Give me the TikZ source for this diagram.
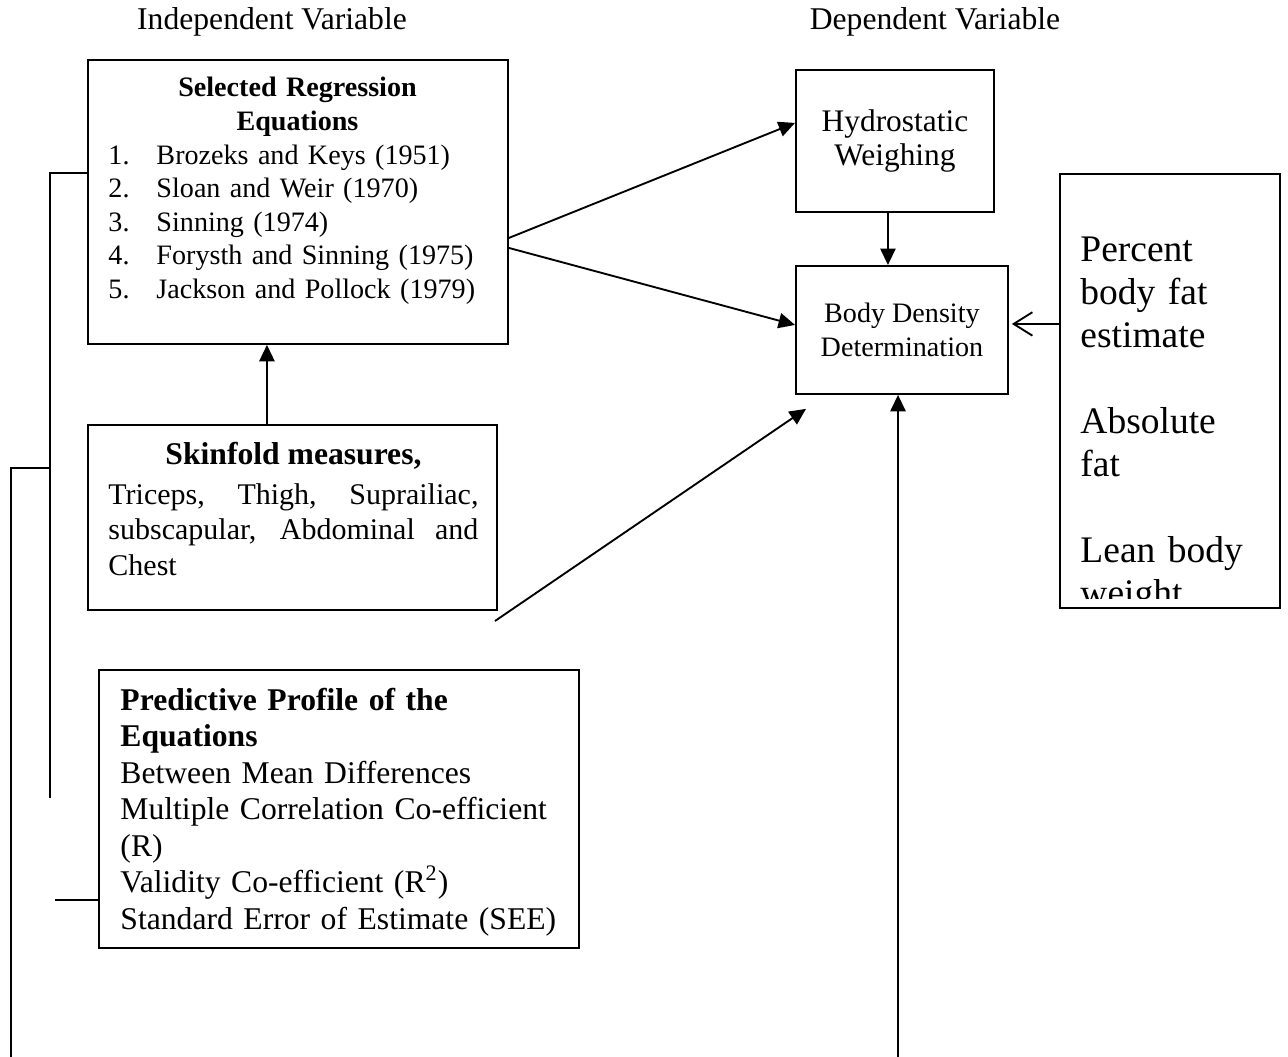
\documentclass[tikz,border=0pt]{standalone}
\usepackage{fontspec}
\setmainfont{Liberation Serif}
\usetikzlibrary{arrows.meta,calc}

\begin{document}
\begin{tikzpicture}[x=0.015cm, y=-0.015cm,
		box/.style={draw, line width=0.8pt, inner sep=0pt, anchor=north west},
		txt/.style={inner sep=0pt, anchor=base west, align=left},
		head/.style={inner sep=0pt, anchor=base, font=\fontsize{13.5}{15.5}\selectfont},
		arr/.style={line width=0.8pt, -{Triangle[length=7pt,width=6.5pt]}},
		link/.style={line width=0.8pt},
	]
	\useasboundingbox (0,0) rectangle (1288,1057);

	\node[head] (indep) at (272,30) {Independent Variable};
	\node[head] (dep) at (935,30) {Dependent Variable};

	% independent side
	\node[box, minimum width=6.30cm, minimum height=4.26cm] (regr) at (87,59) {};
	\node[txt, text width=5.67cm, font=\fontsize{12}{14.3}\selectfont] (regrtxt) at (108,97)
		{{\centering\bfseries Selected Regression\\Equations\par}
		\makebox[20.5pt][l]{1.}Brozeks and Keys (1951)\\
		\makebox[20.5pt][l]{2.}Sloan and Weir (1970)\\
		\makebox[20.5pt][l]{3.}Sinning (1974)\\
		\makebox[20.5pt][l]{4.}Forysth and Sinning (1975)\\
		\makebox[20.5pt][l]{5.}Jackson and Pollock (1979)};

	\node[box, minimum width=6.135cm, minimum height=2.775cm] (skin) at (87,424) {};
	\node[txt, text width=5.55cm, align=justify, font=\fontsize{12.8}{15}\selectfont] (skintxt) at (108,465)
		{{\centering\bfseries\fontsize{13.5}{15.5}\selectfont Skinfold measures,\par}\vspace{2pt}
		Triceps, Thigh, Suprailiac,\linebreak subscapular, Abdominal and Chest};

	\node[box, minimum width=7.20cm, minimum height=4.17cm] (pred) at (98,669) {};
	\node[txt, text width=6.8cm, font=\fontsize{13.5}{15.6}\selectfont] (predtxt) at (120,710)
		{\textbf{Predictive Profile of the}\\\textbf{Equations}\\Between Mean Differences\\
		Multiple Correlation Co-efficient\\(R)\\Validity Co-efficient (R\textsuperscript{2})\\
		Standard Error of Estimate (SEE)};

	% dependent side
	\node[box, minimum width=2.97cm, minimum height=2.13cm, align=center,
		font=\fontsize{13.4}{14.5}\selectfont] (hydro) at (795,69) {Hydrostatic\\Weighing};
	\node[box, minimum width=3.18cm, minimum height=1.92cm, align=center,
		font=\fontsize{12}{14.3}\selectfont] (dens) at (795,265) {Body Density\\Determination};

	\node[box, minimum width=3.30cm, minimum height=6.51cm] (fat) at (1059,173) {};
	\begin{scope}
		\clip (fat.north west) rectangle ($(fat.south east)+(0,-10)$);
		\node[txt, text width=2.9cm, font=\fontsize{16}{18.35}\selectfont] (fattxt) at (1080,262)
			{Percent\\body fat\\estimate\\[18.35pt]Absolute\\fat\\[18.35pt]Lean body\\weight};
	\end{scope}

	\draw[arr] ($(regr.east)+(0,36)$) -- ($(hydro.west)+(0,-18)$);
	\draw[arr] ($(regr.east)+(0,46)$) -- ($(dens.west)+(0,-5)$);
	\draw[arr] ($(skin.north)+(-25.5,0)$) coordinate (sk) -- (sk |- regr.south);
	\draw[arr] ($(hydro.south)+(-7,0)$) coordinate (hy) -- (hy |- dens.north);
	\draw[line width=0.8pt, -{Straight Barb[length=8pt,width=10pt]}]
		($(fat.west)+(0,-67)$) coordinate (ft) -- ($(ft -| dens.east)+(3,0)$);
	\coordinate (low) at (495,621);
	\draw[arr] (low) -- ($(dens.south west)+(11,14)$);
	\coordinate (foot) at (898,1057);
	\draw[arr] (foot) -- (foot |- dens.south);

	% brackets on the left
	\coordinate (brk1) at (50,798);
	\draw[link] ($(regr.west)+(0,-29)$) -| (brk1);
	\coordinate (jn) at (50,468);
	\coordinate (brk2) at (11,1057);
	\draw[link] (jn) -| (brk2);
	\coordinate (brk3) at (55,900);
	\draw[link] (brk3) -- (brk3 -| pred.west);
\end{tikzpicture}
\end{document}
